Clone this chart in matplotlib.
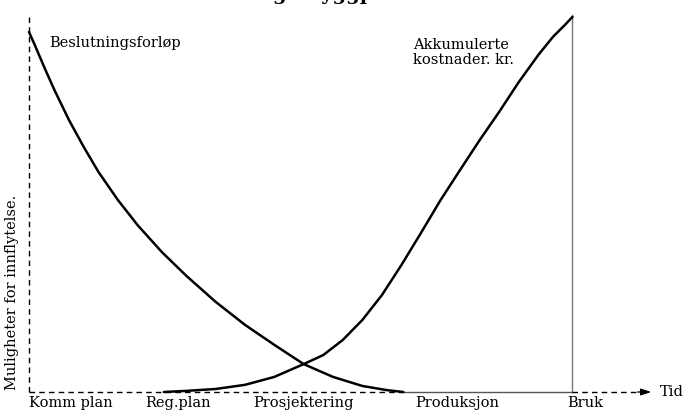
import matplotlib
matplotlib.use("Agg")
import matplotlib.pyplot as plt

# Decision curve: opportunity for influence falls off over time
decision_x = [0.0, 1.08, 2.88, 4.68, 7.37, 10.07, 12.77, 16.37, 19.96, 24.46,
              28.96, 34.35, 39.75, 45.14, 50.54, 55.94, 61.33, 65.83, 68.88]
decision_y = [95.5, 92.0, 85.9, 80.1, 72.1, 65.0, 58.4, 50.9, 44.3, 37.1,
              30.8, 23.9, 17.8, 12.5, 7.4, 4.0, 1.6, 0.5, 0.0]

# Accumulated cost curve
cost_x = [24.82, 28.96, 34.35, 39.75, 45.14, 50.54, 54.14, 57.73, 61.33, 64.93, 68.53,
          72.12, 75.72, 79.32, 82.91, 86.51, 90.11, 93.71, 96.40, 98.56, 100.0]
cost_y = [0.0, 0.3, 0.8, 1.9, 4.0, 7.4, 9.8, 13.8, 19.1, 25.7, 33.7,
          42.2, 50.9, 58.9, 66.8, 74.3, 82.2, 89.4, 94.2, 97.3, 99.5]

phase_pos = [7.7, 27.5, 50.5, 78.8, 102.3]
phase_labels = ["Komm plan", "Reg.plan", "Prosjektering", "Produksjon", "Bruk"]

FONT = "DejaVu Serif"
FS = 10.5

fig = plt.figure(figsize=(6.83, 4.12), dpi=100)
ax = fig.add_axes([29 / 683, 20 / 412, 556 / 683, 377 / 412])
ax.set_xlim(0, 100)
ax.set_ylim(0, 100)
for s in ax.spines.values():
    s.set_visible(False)
ax.set_yticks([])

# frame: dashed left axis, grey right edge, bottom time axis
ax.plot([0, 0], [0, 100], color="black", lw=1.0, ls=(0, (4, 3)), clip_on=False)
ax.plot([100, 100], [0, 100], color="#777777", lw=1.0, clip_on=False)
ax.plot([0, 68.9], [0, 0], color="black", lw=1.0, ls=(0, (4, 3)), clip_on=False)
ax.plot([68.9, 100], [0, 0], color="#555555", lw=1.0, clip_on=False)
ax.plot([100, 112], [0, 0], color="black", lw=1.0, ls=(0, (4, 3)), clip_on=False)
ax.annotate("", xy=(115.0, 0), xytext=(111.5, 0),
            arrowprops=dict(arrowstyle="-|>,head_length=0.6,head_width=0.2",
                            color="black", lw=1.0), annotation_clip=False)
ax.text(116.0, 0, "Tid", fontsize=FS, family=FONT, va="center", ha="left")

ax.plot(decision_x, decision_y, color="black", lw=1.8, solid_capstyle="round",
        solid_joinstyle="round", clip_on=False)
ax.plot(cost_x, cost_y, color="black", lw=1.8, solid_capstyle="round",
        solid_joinstyle="round", clip_on=False)

ax.text(3.8, 92.5, "Beslutningsforløp", fontsize=FS, family=FONT, va="center")
ax.text(70.7, 90.1, "Akkumulerte\nkostnader. kr.", fontsize=FS, family=FONT,
        va="center", linespacing=1.05)

ax.set_xticks(phase_pos)
ax.set_xticklabels(phase_labels, family=FONT, fontsize=FS)
ax.tick_params(axis="x", length=0, pad=3)

ax.text(-0.031, 0.005, "Muligheter for innflytelse.", transform=ax.transAxes,
        rotation=90, fontsize=FS, family=FONT, ha="center", va="bottom")

# heading, mostly above the top edge
fig.text(0.465, 1.0, "Beslutning i byggprosessen", fontsize=14,
         family=FONT, weight="bold", ha="center", va="baseline")

fig.savefig("out.png", dpi=100)
